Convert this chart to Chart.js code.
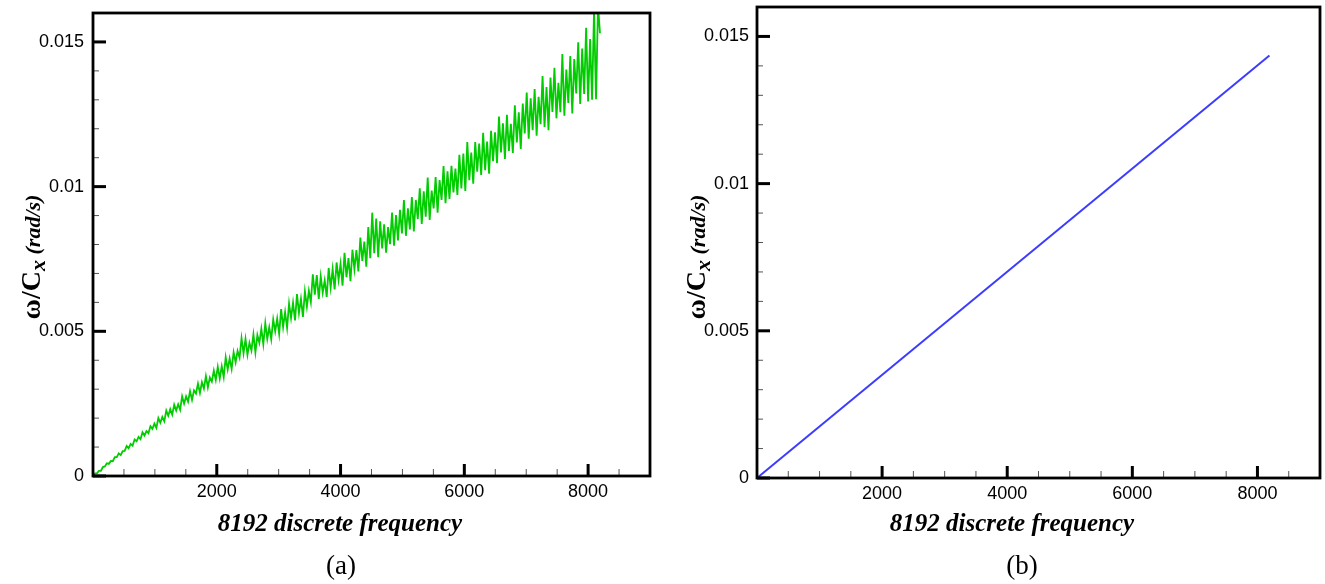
<!DOCTYPE html>
<html lang="en">
<head>
  <meta charset="UTF-8">
  <title>omega/Cx vs 8192 discrete frequency</title>
  <script src="https://cdn.jsdelivr.net/npm/chart.js"></script>
  <style>
    body { margin: 0; background: #fff; }
    .panel { position: absolute; top: 0; height: 584px; }
    #panelA { left: 0; width: 680px; }
    #panelB { left: 662px; width: 663px; }
  </style>
</head>
<body>
  <div class="panel" id="panelA"><canvas id="chartA"></canvas></div>
  <div class="panel" id="panelB"><canvas id="chartB"></canvas></div>

  <script>
    // (a) noisy estimate, one value every 32 discrete frequencies (0 .. 8192)
    const freqStep = 32;
    const noisyOmega = [
      0, 0.00009, 0.00009, 0.00018, 0.00018, 0.00031, 0.00033, 0.00044, 0.00042, 0.00052, 0.00051, 0.00065, 0.00065, 0.00078, 0.00072, 0.00086,
      0.00087, 0.00104, 0.00096, 0.00111, 0.00105, 0.00126, 0.0012, 0.00135, 0.00127, 0.00151, 0.0014, 0.00155, 0.00148, 0.00172, 0.00163, 0.00181,
      0.00166, 0.002, 0.00184, 0.00204, 0.00189, 0.00226, 0.00208, 0.00231, 0.00212, 0.00246, 0.00226, 0.00248, 0.00229, 0.00275, 0.0025, 0.00275,
      0.00257, 0.00293, 0.00263, 0.00296, 0.00285, 0.00319, 0.00287, 0.00324, 0.00302, 0.00345, 0.00306, 0.0034, 0.00326, 0.00364, 0.00332,
      0.00377, 0.00337, 0.00379, 0.00342, 0.0041, 0.00368, 0.00406, 0.0037, 0.00427, 0.00393, 0.00432, 0.00409, 0.00476, 0.00424, 0.00474, 0.00419,
      0.0046, 0.00434, 0.00489, 0.00427, 0.00487, 0.0046, 0.00509, 0.00456, 0.00528, 0.00474, 0.00514, 0.00473, 0.00541, 0.005, 0.00544, 0.00491,
      0.00577, 0.00515, 0.00566, 0.00512, 0.00596, 0.00546, 0.00599, 0.00538, 0.00629, 0.00563, 0.00612, 0.0055, 0.00638, 0.00585, 0.0064, 0.00601,
      0.00697, 0.00627, 0.00694, 0.00612, 0.0069, 0.00634, 0.00676, 0.00619, 0.00719, 0.00651, 0.00715, 0.00645, 0.00738, 0.00678, 0.00733,
      0.00658, 0.00771, 0.00687, 0.00753, 0.00673, 0.00782, 0.00715, 0.00781, 0.00707, 0.00824, 0.00743, 0.0081, 0.00723, 0.0086, 0.00753, 0.0091,
      0.0077, 0.0089, 0.00756, 0.0088, 0.00786, 0.0087, 0.00772, 0.0086, 0.00801, 0.0091, 0.00796, 0.00902, 0.00814, 0.0092, 0.00838,
      0.00954, 0.0083, 0.00925, 0.00852, 0.00964, 0.00845, 0.00954, 0.00888, 0.00994, 0.00871, 0.00984, 0.00896, 0.01031, 0.00885, 0.00986, 0.00925,
      0.01033, 0.0091, 0.01023, 0.00954, 0.01071, 0.00943, 0.01053, 0.00957, 0.01072, 0.0098, 0.01062, 0.00971, 0.0111, 0.00994, 0.01114, 0.00985,
      0.01154, 0.01022, 0.01118, 0.0101, 0.01154, 0.01052, 0.01149, 0.0104, 0.01186, 0.01057, 0.01156, 0.01045, 0.01193, 0.01088, 0.01188, 0.01081,
      0.01242, 0.01118, 0.01219, 0.01096, 0.01248, 0.01123, 0.01217, 0.01116, 0.01281, 0.01153, 0.01257, 0.0113, 0.01287, 0.01184, 0.01325,
      0.01166, 0.01305, 0.01195, 0.01337, 0.01176, 0.0131, 0.01216, 0.01382, 0.01206, 0.01344, 0.01195, 0.01377, 0.01258, 0.01411, 0.01236, 0.01359,
      0.01257, 0.01458, 0.01245, 0.01405, 0.01289, 0.01451, 0.01253, 0.01441, 0.01322, 0.01499, 0.01286, 0.01477, 0.0132, 0.01549, 0.01294,
      0.0151, 0.013, 0.0161, 0.01302, 0.01625, 0.0153
    ];

    // (b) exact relation
    const idealFreq = [0, 8192];
    const idealOmega = [0, 0.01435];

    const xTickLabels = [2000, 4000, 6000, 8000];
    const yTickLabels = [0, 0.005, 0.01, 0.015];

    const noisyPoints = noisyOmega.map((v, i) => ({ x: i * freqStep, y: v }));
    const idealPoints = idealFreq.map((f, i) => ({ x: f, y: idealOmega[i] }));

    const isLabel = (list, v) => list.some(t => Math.abs(t - v) < 1e-9);

    // frame, inward tick marks and the titles
    const framePlugin = {
      id: 'frame',
      afterDraw(chart, args, o) {
        const { ctx, chartArea: a, scales } = chart;
        ctx.save();

        scales.x.ticks.forEach(t => {
          const px = scales.x.getPixelForValue(t.value);
          const major = isLabel(xTickLabels, t.value);
          ctx.beginPath();
          ctx.lineWidth = major ? 3 : 1;
          ctx.strokeStyle = major ? '#000' : '#555';
          ctx.moveTo(px, a.bottom);
          ctx.lineTo(px, a.bottom - (major ? 12 : 7));
          ctx.stroke();
        });
        scales.y.ticks.forEach(t => {
          const py = scales.y.getPixelForValue(t.value);
          const major = isLabel(yTickLabels, t.value);
          ctx.beginPath();
          ctx.lineWidth = major ? 3 : 1;
          ctx.strokeStyle = major ? '#000' : '#555';
          ctx.moveTo(a.left, py);
          ctx.lineTo(a.left + (major ? 13 : 6), py);
          ctx.stroke();
        });

        ctx.lineWidth = 2.8;
        ctx.strokeStyle = '#000';
        ctx.strokeRect(a.left, a.top, a.right - a.left, a.bottom - a.top);

        ctx.fillStyle = '#000';
        ctx.textAlign = 'center';
        ctx.textBaseline = 'alphabetic';
        ctx.font = 'bold italic 25px "Liberation Serif"';
        ctx.fillText('8192 discrete frequency', o.titleX, 531);
        ctx.font = '27px "Liberation Serif"';
        ctx.fillText(o.label, o.labelX, 574);

        // y title: ω/Cx (rad/s), rotated
        ctx.translate(o.yTitleX, o.yTitleY);
        ctx.rotate(-Math.PI / 2);
        ctx.textAlign = 'left';
        const big = 'bold 28px "Liberation Serif"';
        const small = 'bold italic 22px "Liberation Serif"';
        ctx.font = big; const w1 = ctx.measureText('ω/C').width;
        ctx.font = small; const w2 = ctx.measureText('x').width;
        const w3 = ctx.measureText(' (rad/s)').width;
        let x = -(w1 + w2 + w3) / 2;
        ctx.font = big; ctx.fillText('ω/C', x, 9); x += w1;
        ctx.font = small; ctx.fillText('x', x, 14); x += w2;
        ctx.fillText(' (rad/s)', x, 9);
        ctx.restore();
      }
    };

    const tickFont = { family: '"Liberation Sans", Arial, sans-serif', size: 18 };

    function buildChart(id, points, color, lineWidth, pad, yWidth, xHeight, yPad, deco) {
      return new Chart(document.getElementById(id), {
        type: 'line',
        data: {
          datasets: [{
            data: points,
            borderColor: color,
            borderWidth: lineWidth,
            pointRadius: 0,
            tension: 0,
            fill: false
          }]
        },
        options: {
          responsive: true,
          maintainAspectRatio: false,
          animation: false,
          layout: { padding: pad },
          scales: {
            x: {
              type: 'linear', min: 0, max: 9000,
              grid: { display: false, drawTicks: false },
              border: { display: false },
              ticks: {
                stepSize: 500, autoSkip: false, maxRotation: 0, padding: 5,
                color: '#000', font: tickFont,
                callback: v => isLabel(xTickLabels, v) ? String(v) : ''
              },
              afterFit: s => {
                s.height = xHeight;
                s.paddingLeft = 0; s.paddingRight = 0;
              }
            },
            y: {
              type: 'linear', min: 0, max: 0.016,
              grid: { display: false, drawTicks: false },
              border: { display: false },
              ticks: {
                stepSize: 0.001, autoSkip: false, padding: yPad,
                color: '#000', font: tickFont,
                callback: v => {
                  const hit = yTickLabels.find(t => Math.abs(t - v) < 1e-9);
                  return hit === undefined ? '' : String(hit);
                }
              },
              afterFit: s => {
                s.width = yWidth;
                s.paddingTop = 0; s.paddingBottom = 0;
              }
            }
          },
          plugins: {
            legend: { display: false },
            tooltip: { enabled: false },
            frame: deco
          }
        },
        plugins: [framePlugin]
      });
    }

    buildChart('chartA', noisyPoints, '#00cc00', 1.8,
      { left: 0, top: 13, right: 30, bottom: 0 }, 93, 108, 9,
      { titleX: 340, labelX: 341, label: '(a)', yTitleX: 31, yTitleY: 257 });

    buildChart('chartB', idealPoints, '#3c3cff', 2,
      { left: 0, top: 7, right: 5, bottom: 0 }, 95, 106, 8,
      { titleX: 350, labelX: 360, label: '(b)', yTitleX: 34, yTitleY: 257 });
  </script>
</body>
</html>
